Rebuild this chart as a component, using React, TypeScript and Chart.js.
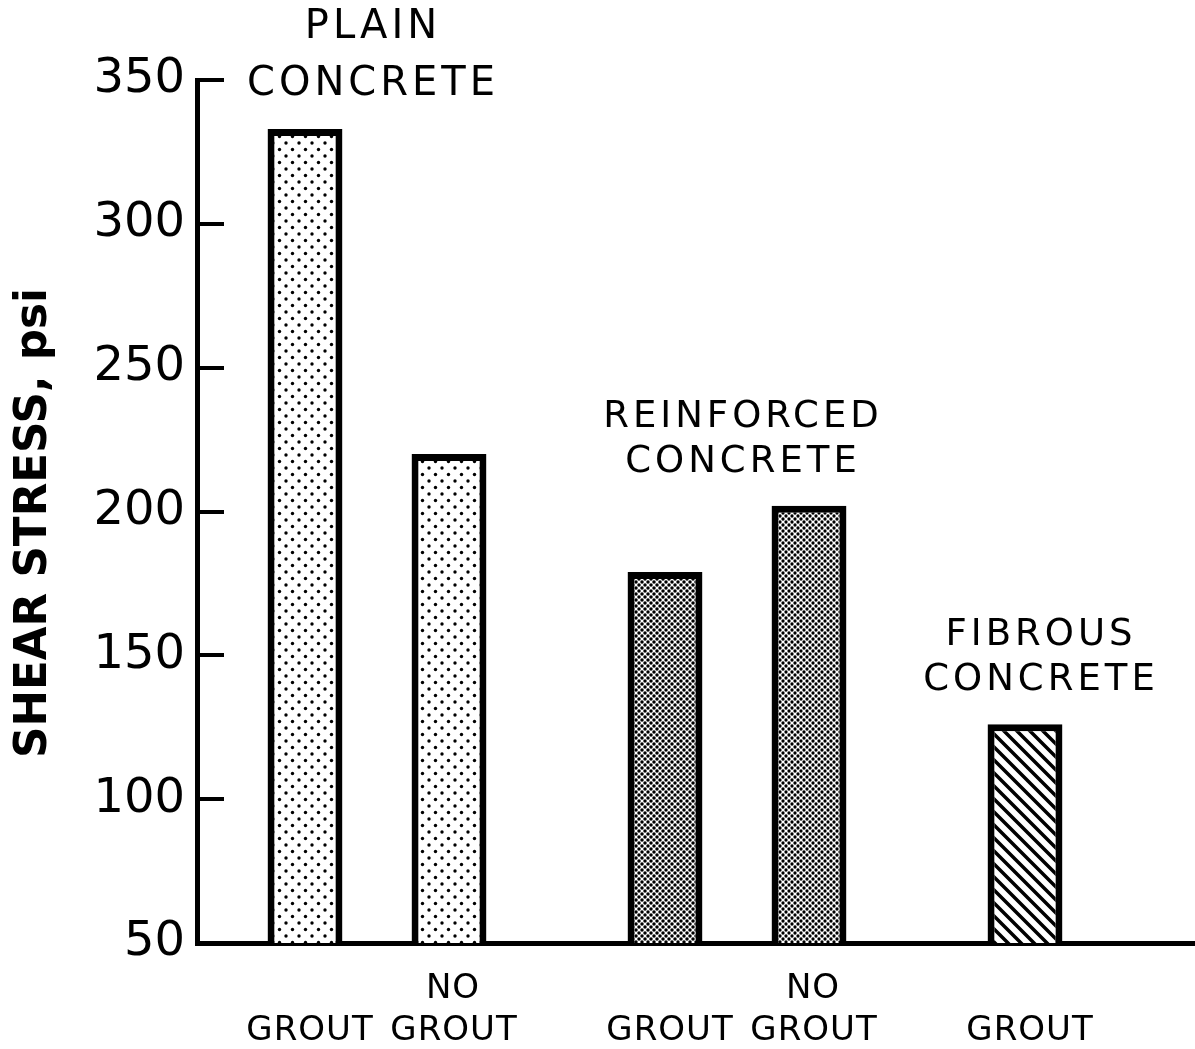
import React, { useEffect, useRef } from "react";
import { Chart, registerables } from "chart.js";

Chart.register(...registerables);

// ---- data ----
const groups = ["PLAIN CONCRETE", "REINFORCED CONCRETE", "FIBROUS CONCRETE"];
const groupTitleLines = [
  ["PLAIN", "CONCRETE"],
  ["REINFORCED", "CONCRETE"],
  ["FIBROUS", "CONCRETE"],
];
const groutValues: (number | null)[] = [333, 179, 126];
const noGroutValues: (number | null)[] = [220, 202, null];
const groutLabelLines = ["", "GROUT"];
const noGroutLabelLines = ["NO", "GROUT"];
const yTickValues = [50, 100, 150, 200, 250, 300, 350];
const yTitle = "SHEAR STRESS, psi";

const FONT = '"DejaVu Sans", "Liberation Sans", sans-serif';

function makeTile(size: number, draw: (g: CanvasRenderingContext2D, s: number) => void) {
  const c = document.createElement("canvas");
  c.width = size;
  c.height = size;
  const g = c.getContext("2d")!;
  g.fillStyle = "#fff";
  g.fillRect(0, 0, size, size);
  draw(g, size);
  return g.createPattern(c, "repeat")!;
}

function dotPattern(size: number, r: number) {
  return makeTile(size, (g, s) => {
    g.fillStyle = "#000";
    const pts = [
      [0, 0],
      [s, 0],
      [0, s],
      [s, s],
      [s / 2, s / 2],
    ];
    for (const [x, y] of pts) {
      g.beginPath();
      g.arc(x, y, r, 0, Math.PI * 2);
      g.fill();
    }
  });
}

function hatchPattern(size: number, lw: number) {
  return makeTile(size, (g, s) => {
    g.strokeStyle = "#000";
    g.lineWidth = lw;
    g.beginPath();
    for (let o = -s; o <= s; o += s) {
      g.moveTo(o - 2, -2);
      g.lineTo(o + s + 2, s + 2);
    }
    g.stroke();
  });
}

const annotations = {
  id: "annotations",
  afterDatasetsDraw(chart: any) {
    const ctx: CanvasRenderingContext2D = chart.ctx;
    const y = chart.scales.y;
    const area = chart.chartArea;
    ctx.save();
    ctx.fillStyle = "#000";
    ctx.strokeStyle = "#000";

    // inward tick marks on y axis
    ctx.lineWidth = 4;
    for (const v of yTickValues) {
      const py = Math.round(y.getPixelForValue(v));
      ctx.beginPath();
      ctx.moveTo(area.left, py);
      ctx.lineTo(area.left + 27, py);
      ctx.stroke();
    }

    // labels under bars
    ctx.font = `34px ${FONT}`;
    (ctx as any).letterSpacing = "1px";
    ctx.textAlign = "center";
    ctx.textBaseline = "alphabetic";
    const labelSets = [groutLabelLines, noGroutLabelLines];
    [groutValues, noGroutValues].forEach((vals, di) => {
      const meta = chart.getDatasetMeta(di);
      vals.forEach((v, j) => {
        if (v == null) return;
        const bx = meta.data[j].x;
        const lines = labelSets[di];
        if (lines[0]) ctx.fillText(lines[0], bx + 4, 998);
        ctx.fillText(lines[1], bx + 5, 1040);
      });
    });

    // group titles above bars
    const lineGap = [57, 45, 45];
    const fontSize = [40, 37, 37];
    groups.forEach((_, j) => {
      const m0 = chart.getDatasetMeta(0).data[j];
      const m1 = chart.getDatasetMeta(1).data[j];
      const hasNo = noGroutValues[j] != null;
      const cx = hasNo ? (m0.x + m1.x) / 2 : m0.x + 10;
      const top = hasNo ? Math.min(m0.y, m1.y) : m0.y;
      const lines = groupTitleLines[j];
      const base = top - 34;
      ctx.font = `${fontSize[j]}px ${FONT}`;
      (ctx as any).letterSpacing = "4px";
      for (let k = 0; k < lines.length; k++) {
        const ly = base - (lines.length - 1 - k) * lineGap[j];
        ctx.fillText(lines[k], cx + (j === 0 ? -4 : 6), ly);
      }
    });

    // y title
    ctx.save();
    ctx.font = `bold 44px ${FONT}`;
    (ctx as any).letterSpacing = "0px";
    const w = ctx.measureText(yTitle).width;
    ctx.translate(35, 523);
    ctx.rotate(-Math.PI / 2);
    ctx.scale(470 / w, 1);
    ctx.textAlign = "center";
    ctx.textBaseline = "middle";
    ctx.fillText(yTitle, 0, 0);
    ctx.restore();

    ctx.restore();
  },
};

export default function App() {
  const ref = useRef<HTMLCanvasElement | null>(null);
  useEffect(() => {
    if (!ref.current) return;
    const plainPat = dotPattern(13, 1.7);
    const reinfPatDark = dotPattern(6, 1.75);
    const reinfPat = dotPattern(6, 1.65);
    const hatch = hatchPattern(13, 3.5);
    const chart = new Chart(ref.current, {
      type: "bar",
      data: {
        labels: groups,
        datasets: [
          {
            label: "GROUT",
            data: groutValues,
            backgroundColor: [plainPat, reinfPatDark, hatch] as any,
            borderColor: "#000",
            borderWidth: 7,
            borderSkipped: false,
          },
          {
            label: "NO GROUT",
            data: noGroutValues,
            backgroundColor: [plainPat, reinfPat, plainPat] as any,
            borderColor: "#000",
            borderWidth: 7,
            borderSkipped: false,
          },
        ],
      },
      options: {
        responsive: false,
        animation: false,
        events: [],
        layout: { padding: { top: 80, bottom: 106, left: 0, right: 0 } },
        datasets: { bar: { categoryPercentage: 0.8, barPercentage: 0.52 } } as any,
        plugins: {
          legend: { display: false },
          tooltip: { enabled: false },
          title: { display: false },
        },
        scales: {
          x: {
            type: "category",
            offset: true,
            grid: { display: false, drawTicks: false },
            ticks: { display: false },
            border: { display: true, color: "#000", width: 5 },
            afterFit: (s: any) => {
              s.height = 0;
            },
          },
          y: {
            min: 50,
            max: 350,
            ticks: {
              stepSize: 50,
              color: "#000",
              font: { family: FONT, size: 48 },
              padding: 12,
            },
            grid: { display: false, drawTicks: false },
            border: { display: true, color: "#000", width: 5 },
            afterFit: (s: any) => {
              s.width = 197;
            },
          },
        },
      },
      plugins: [annotations],
    });
    return () => chart.destroy();
  }, []);
  return (
    <div
      style={{
        position: "absolute",
        left: 0,
        top: 0,
        width: 1195,
        height: 1049,
        overflow: "hidden",
        background: "#fff",
      }}
    >
      <canvas ref={ref} width={1277} height={1049} style={{ display: "block" }} />
    </div>
  );
}
